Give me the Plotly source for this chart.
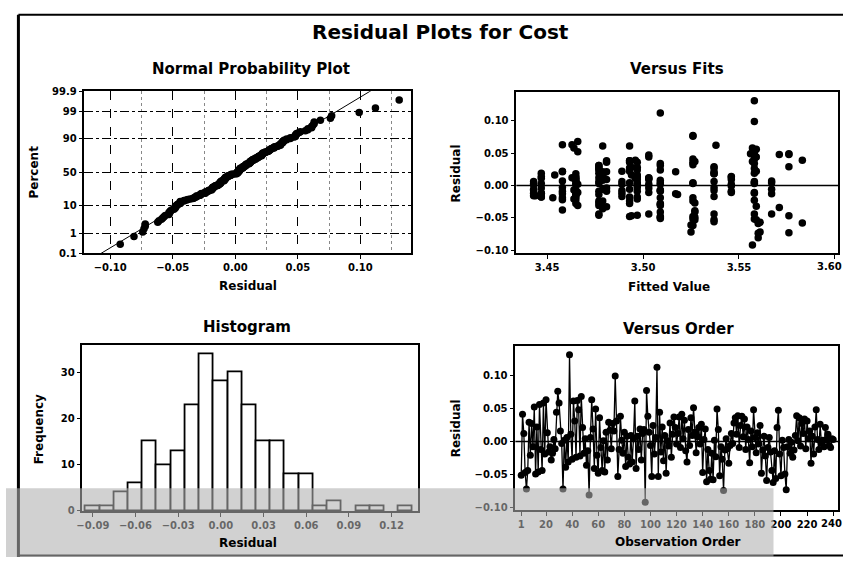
import plotly.graph_objects as go
import numpy as np
from statistics import NormalDist

# ---------------- data ----------------
residuals = [
    -0.051, 0.041, 0.012, -0.047, -0.072, -0.044, 0.029, -0.021, 0.027, -0.008, 0.052, -0.049,
    0.022, -0.046, 0.056, -0.012, -0.044, 0.058, -0.019, 0.063, 0.013, -0.016, -0.008, -0.028,
    -0.018, 0.003, -0.011, 0.044, 0.076, 0.058, 0.016, -0.003, -0.072, 0.002, -0.039, 0.006,
    -0.031, 0.131, 0.011, -0.027, 0.061, 0.031, -0.024, 0.062, 0.048, -0.022, 0.068, 0.021,
    -0.018, 0.004, -0.036, -0.014, -0.081, 0.006, 0.063, 0.019, -0.041, 0.049, -0.021, -0.048,
    0.036, -0.009, -0.044, 0.001, -0.046, 0.014, -0.028, 0.029, 0.017, -0.011, 0.027, 0.016,
    0.099, 0.031, -0.053, -0.012, 0.038, 0.002, -0.018, 0.014, -0.038, 0.008, -0.024, -0.034,
    0.009, -0.031, 0.004, 0.061, -0.041, 0.008, -0.012, 0.019, -0.028, 0.012, 0.018, -0.092,
    0.077, 0.038, 0.014, -0.006, -0.053, 0.024, -0.019, 0.006, 0.112, -0.053, 0.044, -0.016,
    0.022, -0.029, 0.009, -0.048, 0.001, -0.007, 0.028, -0.024, 0.011, 0.037, 0.021, -0.004,
    0.012, 0.037, -0.009, 0.041, 0.004, 0.032, -0.014, -0.031, 0.018, -0.006, 0.036, 0.009,
    0.051, 0.014, -0.017, 0.007, 0.021, -0.004, 0.026, -0.047, 0.003, 0.019, -0.061, -0.012,
    -0.044, -0.057, -0.018, -0.058, 0.002, -0.023, 0.049, 0.018, -0.052, -0.008, -0.027, -0.074,
    -0.013, 0.004, -0.011, -0.033, -0.006, 0.012, -0.003, 0.028, 0.036, 0.011, 0.039, -0.009,
    0.024, 0.038, 0.007, 0.034, -0.012, 0.022, 0.003, -0.032, 0.016, -0.008, 0.048, 0.006,
    -0.017, 0.013, -0.004, 0.024, -0.048, -0.013, 0.008, -0.022, -0.059, -0.009, 0.006, -0.016,
    -0.044, -0.062, -0.014, -0.056, 0.021, 0.047, -0.019, -0.052, 0.002, -0.009, -0.049, -0.073,
    -0.008, 0.003, -0.018, -0.001, -0.024, -0.013, 0.009, 0.039, 0.001, 0.036, -0.007, 0.027,
    0.012, 0.034, -0.011, 0.031, 0.004, 0.016, -0.033, 0.008, -0.019, 0.022, 0.048, 0.003,
    -0.012, 0.026, -0.003, 0.002, -0.008, 0.021, 0.002, 0.011, -0.006, -0.009, 0.004, 0.003,
]

fitted = [
    3.509, 3.526, 3.465, 3.494, 3.525, 3.503, 3.537, 3.464, 3.477, 3.443, 3.466, 3.509,
    3.458, 3.497, 3.559, 3.447, 3.567, 3.464, 3.453, 3.458, 3.546, 3.444, 3.489, 3.509,
    3.465, 3.443, 3.546, 3.503, 3.526, 3.557, 3.454, 3.458, 3.561, 3.466, 3.527, 3.489,
    3.466, 3.558, 3.464, 3.477, 3.479, 3.509, 3.493, 3.538, 3.571, 3.458, 3.466, 3.517,
    3.447, 3.497, 3.479, 3.518, 3.560, 3.443, 3.463, 3.477, 3.527, 3.576, 3.497, 3.493,
    3.497, 3.509, 3.537, 3.465, 3.477, 3.447, 3.465, 3.576, 3.479, 3.503, 3.537, 3.494,
    3.558, 3.477, 3.537, 3.465, 3.481, 3.497, 3.447, 3.479, 3.458, 3.509, 3.477, 3.571,
    3.503, 3.509, 3.526, 3.493, 3.509, 3.465, 3.558, 3.447, 3.493, 3.497, 3.537, 3.557,
    3.526, 3.493, 3.546, 3.443, 3.559, 3.477, 3.458, 3.558, 3.509, 3.527, 3.559, 3.465,
    3.489, 3.509, 3.481, 3.509, 3.497, 3.464, 3.494, 3.526, 3.496, 3.557, 3.458, 3.481,
    3.503, 3.527, 3.546, 3.558, 3.509, 3.526, 3.465, 3.477, 3.537, 3.479, 3.493, 3.546,
    3.558, 3.497, 3.537, 3.458, 3.479, 3.503, 3.477, 3.576, 3.447, 3.558, 3.525, 3.489,
    3.477, 3.561, 3.497, 3.583, 3.546, 3.558, 3.556, 3.465, 3.526, 3.509, 3.527, 3.560,
    3.567, 3.493, 3.466, 3.481, 3.567, 3.463, 3.497, 3.497, 3.481, 3.503, 3.583, 3.477,
    3.509, 3.493, 3.567, 3.558, 3.443, 3.559, 3.526, 3.559, 3.497, 3.537, 3.558, 3.477,
    3.489, 3.465, 3.447, 3.497, 3.526, 3.517, 3.479, 3.465, 3.560, 3.497, 3.537, 3.443,
    3.558, 3.526, 3.477, 3.537, 3.481, 3.503, 3.526, 3.558, 3.509, 3.458, 3.527, 3.576,
    3.465, 3.477, 3.493, 3.546, 3.479, 3.458, 3.497, 3.496, 3.443, 3.526, 3.509, 3.493,
    3.477, 3.509, 3.558, 3.477, 3.567, 3.479, 3.479, 3.465, 3.509, 3.493, 3.576, 3.558,
    3.447, 3.558, 3.537, 3.489, 3.465, 3.537, 3.503, 3.447, 3.493, 3.481, 3.558, 3.465,
]

observation_order = list(range(1, len(residuals) + 1))

percent_ticks = [0.1, 1, 10, 50, 90, 99, 99.9]
percent_labels = ["0.1", "1", "10", "50", "90", "99", "99.9"]
npp_x_ticks = [-0.10, -0.05, 0.00, 0.05, 0.10]
fits_x_ticks = [3.45, 3.50, 3.55, 3.60]
fits_x_labels = ["3.45", "3.50", "3.55", "3.60"]
resid_y_ticks = [-0.10, -0.05, 0.00, 0.05, 0.10]
hist_x_ticks = [-0.09, -0.06, -0.03, 0.00, 0.03, 0.06, 0.09, 0.12]
hist_y_ticks = [0, 10, 20, 30]
order_ticks = [1, 20, 40, 60, 80, 100, 120, 140, 160, 180, 200, 220, 240]
order_labels = [str(t) for t in order_ticks]

# ---------------- derived ----------------
nd = NormalDist()
srt = sorted(residuals)
n = len(srt)
zq = [nd.inv_cdf((i + 1 - 0.3) / (n + 0.4)) for i in range(n)]
mu = float(np.mean(residuals))
sd = float(np.std(residuals, ddof=1))
line_z = [-3.4, 3.4]
line_x = [mu + sd * z for z in line_z]
percent_z = [nd.inv_cdf(p / 100.0) for p in percent_ticks]

W, H = 843, 563
def px(x):
    return x / W
def py(y):
    return 1 - y / H

FONT = "DejaVu Sans"
tickfont = dict(family=FONT, size=10, color="black", weight="bold")

def axis_style(**kw):
    d = dict(showline=True, mirror=True, linecolor="black", linewidth=1.5,
             ticks="outside", ticklen=4, tickwidth=1, tickcolor="black",
             showgrid=False, zeroline=False, tickfont=tickfont, fixedrange=True)
    d.update(kw)
    return d

fig = go.Figure()

mk = dict(color="black", size=7.5)

# Panel 1: normal probability plot
fig.add_trace(go.Scatter(x=line_x, y=line_z, mode="lines",
                         line=dict(color="black", width=1), xaxis="x", yaxis="y"))
fig.add_trace(go.Scatter(x=srt, y=zq, mode="markers", marker=mk, xaxis="x", yaxis="y"))

# Panel 2: versus fits
fig.add_trace(go.Scatter(x=fitted, y=residuals, mode="markers", marker=mk,
                         xaxis="x2", yaxis="y2"))

# Panel 3: histogram
fig.add_trace(go.Histogram(x=residuals, xbins=dict(start=-0.095, end=0.135, size=0.01),
                           marker=dict(color="white", line=dict(color="black", width=1.8)),
                           xaxis="x3", yaxis="y3"))

# Panel 4: versus order
fig.add_trace(go.Scatter(x=observation_order, y=residuals, mode="lines+markers",
                         line=dict(color="black", width=1.3), marker=dict(color="black", size=7),
                         xaxis="x4", yaxis="y4"))

fig.update_layout(
    width=W, height=H, margin=dict(l=0, r=0, t=0, b=0),
    paper_bgcolor="white", plot_bgcolor="white", showlegend=False,
    font=dict(family=FONT, size=10, color="black", weight="bold"),
    bargap=0,
    xaxis=axis_style(domain=[px(79), px(408)], anchor="y", range=[-0.1206, 0.1405],
                     tickvals=npp_x_ticks, tickformat=".2f",
                     showgrid=True, gridcolor="black", gridwidth=1, griddash="dash",
                     minor=dict(showgrid=True, tickvals=[-0.075, -0.025, 0.025, 0.075, 0.125],
                                gridcolor="#888888", gridwidth=1, griddash="dot", ticks="")),
    yaxis=axis_style(domain=[py(253), py(88)], anchor="x",
                     range=[nd.inv_cdf(0.001), nd.inv_cdf(0.999)],
                     tickvals=percent_z, ticktext=percent_labels,
                     showgrid=True, gridcolor="black", gridwidth=1, griddash="dashdot"),
    xaxis2=axis_style(domain=[px(514), px(838)], anchor="y2", range=[3.434, 3.6016],
                      tickvals=fits_x_ticks, ticktext=fits_x_labels[:-1] + [""]),
    yaxis2=axis_style(domain=[py(253), py(89)], anchor="x2", range=[-0.1045, 0.144],
                      tickvals=resid_y_ticks, tickformat=".2f"),
    xaxis3=axis_style(domain=[px(77), px(415)], anchor="y3", range=[-0.0973, 0.1386],
                      tickvals=hist_x_ticks, tickformat=".2f"),
    yaxis3=axis_style(domain=[py(516), py(347)], anchor="x3", range=[0, 35.9],
                      tickvals=hist_y_ticks),
    xaxis4=axis_style(domain=[px(513), px(838)], anchor="y4", range=[-3.5, 243.7],
                      tickvals=order_ticks, ticktext=order_labels[:-1] + [""]),
    yaxis4=axis_style(domain=[py(515), py(348)], anchor="x4", range=[-0.1035, 0.144],
                      tickvals=resid_y_ticks, tickformat=".2f"),
)

# last tick labels at the right edge, kept inside the page as in the scan
fig.add_annotation(text=fits_x_labels[-1], x=1, xref="paper", xanchor="right",
                   y=0, yref="y2 domain", yanchor="top", yshift=-7, showarrow=False,
                   font=tickfont, borderpad=0)
fig.add_annotation(text=order_labels[-1], x=1, xref="paper", xanchor="right",
                   y=0, yref="y4 domain", yanchor="top", yshift=-7, showarrow=False,
                   font=tickfont, borderpad=0)

# reference lines at zero
for ax in ("2", "4"):
    fig.add_shape(type="line", xref=f"x{ax} domain", x0=0, x1=1, yref=f"y{ax}", y0=0, y1=0,
                  line=dict(color="black", width=1.5), layer="below")

# frame of the scanned page
fig.add_shape(type="line", xref="paper", yref="paper", x0=px(12.5), x1=px(12.5),
              y0=0, y1=py(10), line=dict(color="black", width=3))
fig.add_shape(type="line", xref="paper", yref="paper", x0=px(12.5), x1=1,
              y0=py(10), y1=py(10), line=dict(color="black", width=2))
fig.add_shape(type="line", xref="paper", yref="paper", x0=px(12.5), x1=1,
              y0=py(561.5), y1=py(561.5), line=dict(color="black", width=2))

def label(text, x, y, size, angle=0):
    fig.add_annotation(text=text, x=px(x), y=py(y), xref="paper", yref="paper",
                       showarrow=False, xanchor="center", yanchor="middle", textangle=angle,
                       font=dict(family=FONT, size=size, color="black", weight="bold"))

label("Residual Plots for Cost", 438, 28, 20)
label("Normal Probability Plot", 247, 65, 15)
label("Versus Fits", 676, 65, 15)
label("Histogram", 243, 328, 15)
label("Versus Order", 677, 330, 15)
label("Residual", 244, 287, 12)
label("Percent", 28, 170, 12, -90)
label("Fitted Value", 668, 288, 12)
label("Residual", 453, 172, 12, -90)
label("Residual", 244, 549, 12)
label("Frequency", 33, 433, 12, -90)
label("Observation Order", 677, 548, 12)
label("Residual", 453, 432, 12, -90)

# grey watermark band across the bottom of the scan
fig.add_shape(type="rect", xref="paper", yref="paper", x0=0, x1=px(773), y0=0, y1=py(493),
              fillcolor="rgba(175,175,175,0.58)", line=dict(width=0), layer="above")

fig.write_html("out.html")
